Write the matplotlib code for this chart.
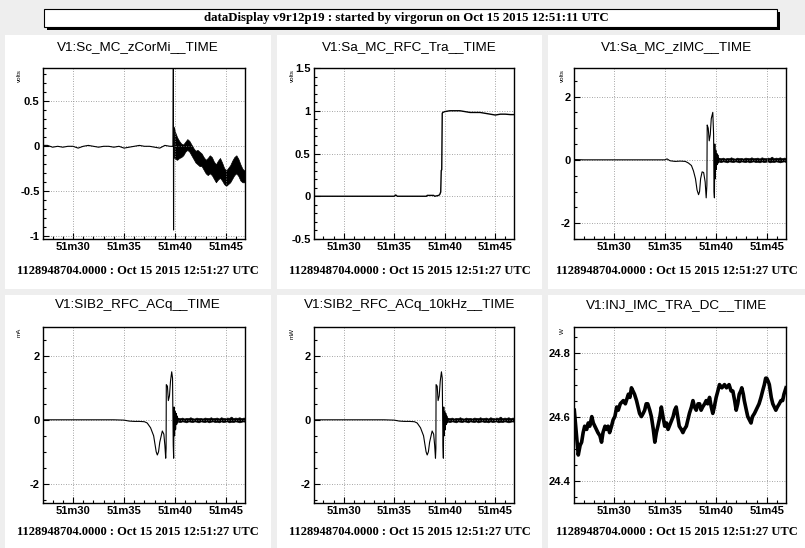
import matplotlib
matplotlib.use('Agg')
import matplotlib.pyplot as plt
from matplotlib.patches import Rectangle
from matplotlib.ticker import FixedLocator, MultipleLocator, FuncFormatter

plt.rcParams['axes.unicode_minus'] = False

W, H = 805, 548

header = 'dataDisplay v9r12p19 : started by virgorun on Oct 15 2015 12:51:11 UTC'
footer = '1128948704.0000 : Oct 15 2015 12:51:27 UTC'
xtick_pos = [30, 35, 40, 45]
xtick_labels = ['51m30', '51m35', '51m40', '51m45']

# panel 1: V1:Sc_MC_zCorMi (flat part + spike, then oscillating band)
zcor_t = [27.0, 27.5, 28.0, 28.5, 29.0, 29.5, 30.0, 30.5, 31.0, 31.5, 32.0, 32.5, 33.0,
          33.5, 34.0, 34.5, 35.0, 35.5, 36.0, 36.5, 37.0, 37.5, 38.0, 38.5, 39.0, 39.5,
          39.8, 39.83, 39.85, 39.87]
zcor_v = [0.01, 0.01, -0.01, 0.0, -0.01, 0.0, 0.0, -0.02, 0.0, 0.01, 0.0, -0.01, 0.0,
          0.0, -0.01, 0.0, -0.02, -0.01, 0.0, 0.01, 0.0, 0.0, -0.01, -0.02, 0.01, 0.0,
          0.0, 0.9, -0.93, 0.2]
zcor_band_t = [39.86, 40.0, 40.2, 40.4, 40.6, 40.8, 41.0, 41.2, 41.4, 41.6, 41.8, 42.0,
               42.2, 42.4, 42.6, 42.8, 43.0, 43.2, 43.4, 43.6, 43.8, 44.0, 44.2, 44.4,
               44.6, 44.8, 45.0, 45.2, 45.4, 45.6, 45.8, 46.0, 46.2, 46.4, 46.6, 46.8, 47.0]
zcor_band_hi = [0.22, 0.16, 0.10, 0.06, 0.03, 0.02, 0.05, 0.08, 0.06, 0.02, -0.02, -0.05,
                -0.04, -0.06, -0.08, -0.12, -0.15, -0.13, -0.10, -0.12, -0.17, -0.20, -0.16,
                -0.13, -0.18, -0.24, -0.27, -0.24, -0.21, -0.16, -0.12, -0.10, -0.14, -0.20,
                -0.25, -0.27, -0.29]
zcor_band_lo = [-0.12, -0.14, -0.15, -0.13, -0.12, -0.10, -0.06, -0.04, -0.06, -0.10, -0.14,
                -0.18, -0.20, -0.22, -0.22, -0.26, -0.30, -0.32, -0.30, -0.32, -0.36, -0.40,
                -0.37, -0.35, -0.38, -0.42, -0.44, -0.42, -0.40, -0.36, -0.32, -0.30, -0.33,
                -0.38, -0.40, -0.40, -0.38]

# panel 2: V1:Sa_MC_RFC_Tra
rfc_t = [27.0, 35.0, 35.15, 35.3, 38.2, 38.25, 38.9, 39.0, 39.4, 39.5, 39.6, 39.65, 39.7,
         39.75, 39.8, 40.0, 40.5, 41.0, 41.5, 42.0, 42.5, 43.0, 43.5, 44.0, 44.5, 45.0,
         45.5, 46.0, 46.5, 47.0]
rfc_v = [0.0, 0.0, 0.015, 0.0, 0.0, 0.01, 0.01, 0.0, 0.01, 0.02, 0.05, 0.3, 0.31,
         0.97, 0.98, 0.99, 1.0, 1.0, 1.0, 0.99, 0.98, 0.98, 0.98, 0.97, 0.96, 0.95,
         0.96, 0.96, 0.955, 0.955]

# panel 3: V1:Sa_MC_zIMC
zimc_t = [26.0, 27.0, 28.0, 29.0, 30.0, 31.0, 32.0, 33.0, 34.0, 35.0, 35.2, 35.5, 36.0,
          36.5, 37.0, 37.3, 37.6, 37.8, 38.0, 38.15, 38.3, 38.4, 38.5, 38.65, 38.8, 38.95,
          39.05, 39.12, 39.15, 39.25, 39.35, 39.45, 39.55, 39.7, 39.78, 39.82, 39.86, 39.9,
          39.95, 40.0, 40.05, 40.1, 40.15, 40.2, 40.25, 40.3, 40.35]
zimc_v = [0.01, 0.0, 0.0, 0.0, 0.0, 0.0, 0.0, 0.0, 0.0, 0.0, 0.03, -0.03, -0.05,
          -0.04, -0.05, -0.1, -0.18, -0.35, -0.6, -0.95, -1.1, -1.0, -0.6, -0.38, -0.4,
          -0.7, -1.2, -0.8, 1.1, 1.0, 0.6, 0.8, 1.3, 1.5, 0.8, -1.0, -1.2, 0.5, -0.6, 0.3,
          -0.3, 0.2, -0.15, 0.15, -0.1, 0.05, 0.0]

# panels 4 and 5: V1:SIB2_RFC_ACq (mA) and ACq_10kHz (mW)
acq_t = [27.0, 28.0, 29.0, 30.0, 31.0, 32.0, 33.0, 34.0, 35.0, 35.5, 36.0, 36.5, 37.0,
         37.27, 37.6, 37.9, 38.05, 38.15, 38.26, 38.38, 38.5, 38.75, 38.9, 39.0, 39.08,
         39.12, 39.14, 39.25, 39.34, 39.45, 39.55, 39.67, 39.75, 39.82, 39.86, 39.9, 39.95,
         40.0, 40.05, 40.1, 40.15, 40.2, 40.25, 40.3, 40.35]
acq_v = [0.0, 0.0, 0.0, 0.0, 0.0, 0.0, 0.0, 0.0, -0.01, -0.04, -0.05, -0.05, -0.06,
         -0.1, -0.25, -0.5, -0.8, -1.0, -1.1, -1.0, -0.7, -0.35, -0.45, -0.8, -1.2,
         -0.9, 1.1, 1.05, 0.6, 0.75, 1.2, 1.5, 1.3, -0.8, -1.2, 0.4, -0.5, 0.26,
         -0.3, 0.2, -0.15, 0.12, -0.1, 0.05, 0.0]

# noise floor after the lock event (same look in panels 3-5)
noise_t = [40.3, 40.5, 40.7, 40.9, 41.1, 41.3, 41.5, 41.7, 41.9, 42.1, 42.3, 42.5, 42.7,
           42.9, 43.1, 43.3, 43.5, 43.7, 43.9, 44.1, 44.3, 44.5, 44.7, 44.9, 45.1, 45.3,
           45.5, 45.7, 45.9, 46.1, 46.3, 46.5, 46.7, 46.9, 47.0]
noise_hi = [0.06, 0.05, 0.07, 0.04, 0.06, 0.05, 0.08, 0.05, 0.04, 0.07, 0.05, 0.06, 0.04,
            0.07, 0.06, 0.05, 0.08, 0.05, 0.06, 0.07, 0.04, 0.08, 0.06, 0.05, 0.07, 0.06,
            0.1, 0.05, 0.07, 0.06, 0.08, 0.05, 0.07, 0.06, 0.05]
noise_lo = [-0.06, -0.07, -0.05, -0.06, -0.08, -0.05, -0.06, -0.07, -0.05, -0.06, -0.08,
            -0.05, -0.06, -0.07, -0.05, -0.08, -0.06, -0.05, -0.07, -0.06, -0.08, -0.05,
            -0.07, -0.06, -0.05, -0.08, -0.06, -0.07, -0.05, -0.06, -0.08, -0.06, -0.05,
            -0.07, -0.06]

# panel 6: V1:INJ_IMC_TRA_DC
inj_t = [26.08, 26.3, 26.47, 26.65, 26.8, 26.95, 27.1, 27.3, 27.45, 27.6, 27.8, 27.95, 28.1,
         28.25, 28.4, 28.6, 28.76, 28.9, 29.1, 29.25, 29.4, 29.55, 29.74, 29.9, 30.07,
         30.25, 30.4, 30.6, 30.9, 31.1, 31.4, 31.55, 31.7, 31.85, 32.0, 32.2, 32.35, 32.5,
         32.68, 32.85, 33.0, 33.15, 33.3, 33.5, 33.66, 33.85, 34.0, 34.15, 34.3, 34.5,
         34.64, 34.8, 34.97, 35.15, 35.3, 35.55, 35.8, 35.95, 36.1, 36.25, 36.4, 36.6,
         36.76, 36.9, 37.1, 37.25, 37.4, 37.6, 37.75, 37.9, 38.07, 38.25, 38.4, 38.55,
         38.7, 38.9, 39.05, 39.2, 39.38, 39.55, 39.7, 39.85, 40.03, 40.2, 40.36, 40.6,
         40.85, 41.05, 41.3, 41.5, 41.67, 41.85, 42.0, 42.15, 42.3, 42.45, 42.55, 42.7,
         42.8, 43.0, 43.14, 43.3, 43.46, 43.6, 43.8, 43.95, 44.1, 44.25, 44.44, 44.6,
         44.77, 44.9, 45.0, 45.15, 45.26, 45.45, 45.6, 45.75, 45.9, 46.05, 46.24, 46.4,
         46.57, 46.7, 46.8, 46.9]
inj_v = [24.62, 24.54, 24.48, 24.51, 24.52, 24.55, 24.57, 24.56, 24.58, 24.57, 24.6, 24.58,
         24.57, 24.56, 24.55, 24.54, 24.52, 24.55, 24.57, 24.56, 24.57, 24.55, 24.57, 24.59,
         24.6, 24.63, 24.62, 24.64, 24.65, 24.64, 24.67, 24.66, 24.69, 24.68, 24.67, 24.65,
         24.63, 24.61, 24.6, 24.61, 24.62, 24.64, 24.64, 24.62, 24.6, 24.56, 24.52, 24.55,
         24.57, 24.6, 24.63, 24.6, 24.57, 24.58, 24.56, 24.58, 24.6, 24.62, 24.63, 24.6,
         24.57, 24.56, 24.55, 24.56, 24.57, 24.59, 24.61, 24.63, 24.65, 24.63, 24.62, 24.64,
         24.64, 24.62, 24.63, 24.64, 24.65, 24.64, 24.66, 24.63, 24.61, 24.63, 24.66, 24.68,
         24.7, 24.69, 24.7, 24.69, 24.7, 24.68, 24.68, 24.65, 24.62, 24.64, 24.67, 24.68,
         24.69, 24.67, 24.65, 24.62, 24.6, 24.59, 24.58, 24.6, 24.61, 24.62, 24.63, 24.64,
         24.66, 24.68, 24.7, 24.72, 24.72, 24.71, 24.7, 24.66, 24.64, 24.63, 24.62, 24.63,
         24.64, 24.65, 24.65, 24.67, 24.68, 24.69]

titles = ['V1:Sc_MC_zCorMi__TIME', 'V1:Sa_MC_RFC_Tra__TIME', 'V1:Sa_MC_zIMC__TIME',
          'V1:SIB2_RFC_ACq__TIME', 'V1:SIB2_RFC_ACq_10kHz__TIME', 'V1:INJ_IMC_TRA_DC__TIME']
units = ['volts', 'volts', 'volts', 'mA', 'mW', 'W']
ylims = [(-1.03, 0.87), (-0.5, 1.5), (-2.5, 2.9), (-2.6, 2.9), (-2.6, 2.9), (24.33, 24.88)]
ymajor = [0.5, 0.5, 2, 2, 2, 0.2]
yminor = [0.1, 0.1, 0.5, 0.5, 0.5, 0.05]

# layout in pixels
pan_x = [(5, 271), (277, 542), (548, 805)]
pan_y = [(35, 289), (295, 548)]
ax_x = [(43, 245), (314, 514), (574, 786)]
ax_y = [(68, 239), (327, 503)]
xlims = [(27.06, 46.85), (27.06, 46.85), (26.05, 46.9)]
unit_x = [19, 292, 562]
title_y = [47.5, 305]
foot_y = [271, 532]

fig = plt.figure(figsize=(W / 100, H / 100), dpi=100)
fig.patch.set_facecolor('#eeeeee')

def fx(px):
    return px / W

def fy(py):
    return 1 - py / H

# header box with shadow
fig.patches.append(Rectangle((fx(47), fy(30)), (777 - 44) / W, 18 / H, transform=fig.transFigure,
                             facecolor='black', edgecolor='none', zorder=-2))
fig.patches.append(Rectangle((fx(44), fy(27)), (777 - 44) / W, 18 / H, transform=fig.transFigure,
                             facecolor='white', edgecolor='black', lw=0.8, zorder=-1))
fig.text(fx(406), fy(18), header, ha='center', va='center', family='Liberation Serif',
         weight='bold', fontsize=9.3)

axes = []
for i in range(6):
    r, c = divmod(i, 3)
    px0, px1 = pan_x[c]
    py0, py1 = pan_y[r]
    fig.patches.append(Rectangle((fx(px0), fy(py1)), (px1 - px0) / W, (py1 - py0) / H,
                                 transform=fig.transFigure, facecolor='white',
                                 edgecolor='none', zorder=-3))
    l, rr = ax_x[c]
    t, b = ax_y[r]
    ax = fig.add_axes([fx(l), fy(b), (rr - l) / W, (b - t) / H])
    axes.append(ax)
    cx = (px0 + px1) / 2
    fig.text(fx(cx), fy(title_y[r]), titles[i], ha='center', va='center',
             family='Liberation Sans', fontsize=9.7)
    fig.text(fx(cx), fy(foot_y[r]), footer, ha='center', va='center',
             family='Liberation Serif', weight='bold', fontsize=9)
    fig.text(fx(unit_x[c]), fy(t + 1), units[i], ha='center', va='top', rotation=90,
             family='Liberation Sans', fontsize=4.5)

    ax.set_xlim(xlims[c])
    ax.set_ylim(ylims[i])
    ax.xaxis.set_major_locator(FixedLocator(xtick_pos))
    ax.set_xticklabels(xtick_labels)
    ax.xaxis.set_minor_locator(MultipleLocator(1))
    ax.yaxis.set_major_locator(MultipleLocator(ymajor[i]))
    ax.yaxis.set_minor_locator(MultipleLocator(yminor[i]))
    ax.yaxis.set_major_formatter(FuncFormatter(lambda v, p: '%g' % round(v, 3)))
    ax.tick_params(which='major', direction='in', length=4, width=0.8, pad=2.5)
    ax.tick_params(which='minor', direction='in', length=2.2, width=0.8)
    ax.tick_params(top=False, right=False)
    for lab in ax.get_xticklabels() + ax.get_yticklabels():
        lab.set_family('Liberation Sans')
        lab.set_weight('bold')
        lab.set_fontsize(8)
    ax.grid(True, which='major', linestyle=(0, (1, 2)), color='#888888', lw=0.6)
    for s in ax.spines.values():
        s.set_linewidth(1.0)

lw = 0.8
axes[0].plot(zcor_t, zcor_v, color='black', lw=lw)
axes[0].fill_between(zcor_band_t, zcor_band_lo, zcor_band_hi, color='black', lw=0.5)
axes[1].plot(rfc_t, rfc_v, color='black', lw=1.0)
axes[2].plot(zimc_t, zimc_v, color='black', lw=lw)
axes[2].fill_between(noise_t, noise_lo, noise_hi, color='black', lw=0.5)
for k in (3, 4):
    axes[k].plot(acq_t, acq_v, color='black', lw=lw)
    axes[k].fill_between(noise_t, noise_lo, noise_hi, color='black', lw=0.5)
axes[5].plot(inj_t, inj_v, color='black', lw=2.6)

fig.savefig('out.png', dpi=100, facecolor=fig.get_facecolor())
